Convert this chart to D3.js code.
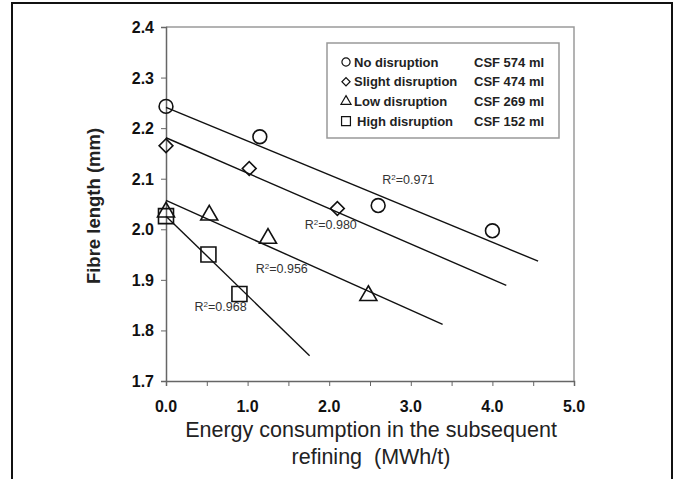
<!DOCTYPE html>
<html>
<head>
<meta charset="utf-8">
<script src="https://cdn.jsdelivr.net/npm/d3@7"></script>
<style>
  html, body { margin: 0; padding: 0; background: #fff; }
  svg { display: block; font-family: Arial, "Liberation Sans", sans-serif; }
</style>
</head>
<body>
<div id="chart"></div>
<script>
// data
const seriesNames = ["No disruption", "Slight disruption", "Low disruption", "High disruption"];
const csfLabels = ["CSF 574 ml", "CSF 474 ml", "CSF 269 ml", "CSF 152 ml"];
const symbols = ["circle", "diamond", "triangle", "square"];

const noDisruption = [[0, 2.243], [1.15, 2.183], [2.6, 2.047], [4.0, 1.997]];
const slightDisruption = [[0, 2.165], [1.02, 2.12], [2.1, 2.041]];
const lowDisruption = [[0, 2.034], [0.53, 2.028], [1.25, 1.982], [2.48, 1.869]];
const highDisruption = [[0, 2.026], [0.52, 1.95], [0.9, 1.872]];

// fitted trend lines: [start, end]
const fitNo = [[0, 2.241], [4.56, 1.937]];
const fitSlight = [[0, 2.181], [4.17, 1.889]];
const fitLow = [[0, 2.057], [3.39, 1.812]];
const fitHigh = [[0, 2.026], [1.76, 1.75]];

const r2Labels = ["0.971", "0.980", "0.956", "0.968"];
const r2Pos = [[2.65, 2.09], [1.7, 2.0], [1.1, 1.913], [0.35, 1.838]];

const xTicks = [0, 1, 2, 3, 4, 5];
const yTicks = [1.7, 1.8, 1.9, 2.0, 2.1, 2.2, 2.3, 2.4];

const width = 677, height = 479;
const svg = d3.select("#chart").append("svg")
  .attr("width", width).attr("height", height);

// outer frame
svg.append("path")
  .attr("d", "M12,482 V3 H672 V482")
  .attr("fill", "none").attr("stroke", "#111").attr("stroke-width", 2);

const x = d3.scaleLinear().domain([0, 5]).range([166, 574]);
const y = d3.scaleLinear().domain([1.7, 2.4]).range([381, 27]);

// plot frame (top and right)
svg.append("path")
  .attr("d", `M${x(0)},${y(2.4)} H${x(5)} V${y(1.7)}`)
  .attr("fill", "none").attr("stroke", "#9a9a9a").attr("stroke-width", 1.5);

// x axis
const xAxis = svg.append("g").attr("transform", `translate(0,${y(1.7)})`)
  .call(d3.axisBottom(x).tickValues(d3.range(0, 5.01, 0.5)).tickSize(5).tickFormat(""));
xAxis.select(".domain").attr("stroke", "#666").attr("stroke-width", 1.5);
xAxis.selectAll(".tick line").attr("stroke", "#666").attr("stroke-width", 1);

svg.append("g").selectAll("text").data(xTicks).join("text")
  .attr("x", d => x(d)).attr("y", 412)
  .attr("text-anchor", "middle")
  .attr("font-size", 16).attr("font-weight", "bold").attr("fill", "#111")
  .text(d => d.toFixed(1));

// y axis
const yAxis = svg.append("g").attr("transform", `translate(${x(0)},0)`)
  .call(d3.axisLeft(y).tickValues(yTicks).tickSize(5).tickFormat(""));
yAxis.select(".domain").attr("stroke", "#666").attr("stroke-width", 1.5);
yAxis.selectAll(".tick line").attr("stroke", "#666").attr("stroke-width", 1);

svg.append("g").selectAll("text").data(yTicks).join("text")
  .attr("x", 154).attr("y", d => y(d) + 6)
  .attr("text-anchor", "end")
  .attr("font-size", 16).attr("font-weight", "bold").attr("fill", "#111")
  .text(d => d.toFixed(1));

// axis titles
svg.append("text")
  .attr("transform", `translate(100,206) rotate(-90)`)
  .attr("text-anchor", "middle")
  .attr("font-size", 18.5).attr("font-weight", "bold").attr("fill", "#222")
  .text("Fibre length (mm)");

svg.append("text")
  .attr("x", 371).attr("y", 437)
  .attr("text-anchor", "middle")
  .attr("font-size", 21.5).attr("fill", "#222")
  .text("Energy consumption in the subsequent");
svg.append("text")
  .attr("x", 371).attr("y", 464)
  .attr("text-anchor", "middle")
  .attr("font-size", 21.5).attr("fill", "#222")
  .attr("xml:space", "preserve")
  .text("refining  (MWh/t)");

// trend lines
const fits = [fitNo, fitSlight, fitLow, fitHigh];
svg.append("g").selectAll("line").data(fits).join("line")
  .attr("x1", d => x(d[0][0])).attr("y1", d => y(d[0][1]))
  .attr("x2", d => x(d[1][0])).attr("y2", d => y(d[1][1]))
  .attr("stroke", "#111").attr("stroke-width", 1.4);

// markers
const symbolTypes = {
  circle: d3.symbolCircle, diamond: d3.symbolSquare,
  triangle: d3.symbolTriangle, square: d3.symbolSquare
};
const symbolSizes = { circle: 150, diamond: 95, triangle: 125, square: 225 };
function sym(name, scale = 1) {
  return d3.symbol().type(symbolTypes[name]).size(symbolSizes[name] * scale)();
}
const rot = name => name === "diamond" ? " rotate(45)" : "";

const allSeries = [noDisruption, slightDisruption, lowDisruption, highDisruption];
allSeries.forEach((pts, i) => {
  svg.append("g").selectAll("path").data(pts).join("path")
    .attr("transform", d => `translate(${x(d[0])},${y(d[1])})` + rot(symbols[i]))
    .attr("d", sym(symbols[i]))
    .attr("fill", "none").attr("stroke", "#111").attr("stroke-width", 1.6);
});

// R² labels
const r2 = svg.append("g").selectAll("text").data(r2Labels).join("text")
  .attr("x", (d, i) => x(r2Pos[i][0])).attr("y", (d, i) => y(r2Pos[i][1]))
  .attr("font-size", 12.5).attr("fill", "#333");
r2.append("tspan").text("R");
r2.append("tspan").attr("font-size", 8).attr("dy", -4).text("2");
r2.append("tspan").attr("dy", 4).text(d => "=" + d);

// legend
svg.append("rect")
  .attr("x", 327).attr("y", 43).attr("width", 232).attr("height", 95)
  .attr("fill", "#fff").attr("stroke", "#999").attr("stroke-width", 1.5);

const leg = svg.append("g").selectAll("g").data(seriesNames).join("g")
  .attr("transform", (d, i) => `translate(0,${62 + i * 19.7})`);
leg.append("path")
  .attr("transform", (d, i) => "translate(346,0)" + rot(symbols[i]))
  .attr("d", (d, i) => sym(symbols[i], 0.35))
  .attr("fill", "none").attr("stroke", "#111").attr("stroke-width", 1.2);
leg.append("text")
  .attr("x", (d, i) => i === 3 ? 357 : 354).attr("y", 4.5)
  .attr("font-size", 13).attr("font-weight", "bold").attr("fill", "#222")
  .text(d => d);
leg.append("text")
  .attr("x", 474).attr("y", 4.5)
  .attr("font-size", 13).attr("font-weight", "bold").attr("fill", "#222")
  .text((d, i) => csfLabels[i]);
</script>
</body>
</html>
